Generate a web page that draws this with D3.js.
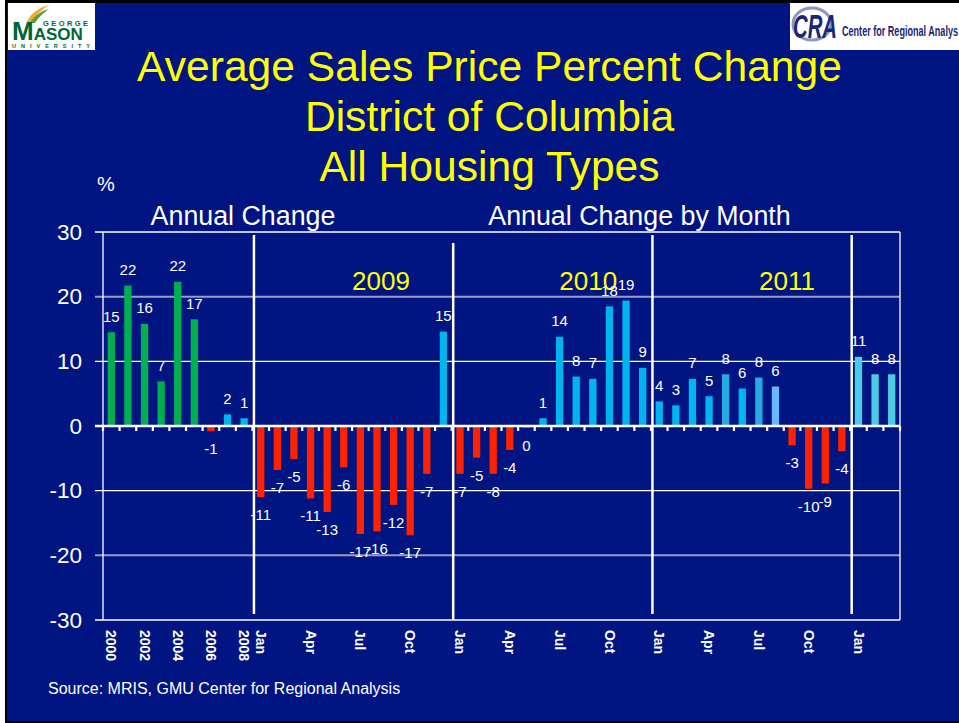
<!DOCTYPE html>
<html><head><meta charset="utf-8">
<script src="https://cdn.jsdelivr.net/npm/d3@7"></script>
<style>
body{margin:0;background:#fff}
svg{display:block}
text{font-family:"Liberation Sans",Arial,Helvetica,sans-serif}
</style>
</head><body>
<svg id="c" width="959" height="723"></svg>
<script>
// ---------- DATA ----------
const categories = [
  "2000","2001","2002","2003","2004","2005","2006","2007","2008",
  "Jan09","Feb09","Mar09","Apr09","May09","Jun09","Jul09","Aug09","Sep09","Oct09","Nov09","Dec09",
  "Jan10","Feb10","Mar10","Apr10","May10","Jun10","Jul10","Aug10","Sep10","Oct10","Nov10","Dec10",
  "Jan11","Feb11","Mar11","Apr11","May11","Jun11","Jul11","Aug11","Sep11","Oct11","Nov11","Dec11",
  "Jan12","Feb12","Mar12"
];
const values = [
  14.5,21.7,15.8,6.9,22.3,16.5,-0.8,1.8,1.2,
  -11.0,-6.8,-5.1,-11.2,-13.3,-6.4,-16.7,-16.3,-12.2,-16.9,-7.4,14.6,
  -7.4,-4.9,-7.4,-3.7,-0.3,1.2,13.8,7.65,7.3,18.5,19.4,9.0,
  3.8,3.2,7.3,4.6,8.0,5.8,7.5,6.1,-3.0,-9.7,-8.9,-3.9,
  10.7,8.0,8.0
];
const valueLabels = [
  "15","22","16","7","22","17","-1","2","1",
  "-11","-7","-5","-11","-13","-6","-17","-16","-12","-17","-7","15",
  "-7","-5","-8","-4","0","1","14","8","7","18","19","9",
  "4","3","7","5","8","6","8","6","-3","-10","-9","-4",
  "11","8","8"
];
const tickLabels = [
  "2000","","2002","","2004","","2006","","2008",
  "Jan","","","Apr","","","Jul","","","Oct","","",
  "Jan","","","Apr","","","Jul","","","Oct","","",
  "Jan","","","Apr","","","Jul","","","Oct","","",
  "Jan","",""
];
const yTicks = [-30,-20,-10,0,10,20,30];
const annualCategories = ["2000","2001","2002","2003","2004","2005"];
const sectionStarts = ["Jan09","Jan10","Jan11","Jan12"];
const yearLabels = ["2009","2010","2011"];
const yearLabelCenters = ["Aug09","Aug10","Aug11"];
const titleLines = ["Average Sales Price Percent Change","District of Columbia","All Housing Types"];

// ---------- SETUP ----------
const svg = d3.select("#c");
const W = 959, H = 723;
svg.append("rect").attr("x",5).attr("y",0).attr("width",W-5).attr("height",H).attr("fill","#000");
svg.append("rect").attr("x",7).attr("y",3).attr("width",W-7).attr("height",718).attr("fill","#001482");

const x = d3.scaleBand().domain(categories).range([103,900]).paddingInner(0.56).paddingOuter(0.28);
const y = d3.scaleLinear().domain([-30,30]).range([620,232]);
const step = x.step();
const left = 103, right = 900;

function colorFor(key, v){
  if (v < 0) return "#FF2200";
  if (annualCategories.includes(key)) return "#00B050";
  if (key === "May11" || key === "Jul11") return "#27AAE3";
  if (key === "Aug11") return "#6AB6FF";
  if (key.endsWith("12")) return "#4CCBE4";
  return "#00B4F0";
}

// ---------- TITLE ----------
const title = svg.append("g");
titleLines.forEach((t,i)=>{
  title.append("text").attr("x",489.5).attr("y",81+i*50).attr("text-anchor","middle")
    .attr("fill","#FFFF00").attr("font-size",42.6).text(t);
});

// ---------- LOGOS ----------
const gmu = svg.append("g");
gmu.append("rect").attr("x",8).attr("y",3).attr("width",87).attr("height",47).attr("fill","#fff");
gmu.append("path").attr("d","M27,22 C31,13 39,7 50,5 C42,9 36,15 32,22 Z").attr("fill","#F3A83B");
gmu.append("path").attr("d","M30,23 C34,16 41,11 49,9 C43,13 38,18 35,23 Z").attr("fill","#5E9E3A");
gmu.append("text").attr("x",43).attr("y",25.5).attr("fill","#006633").attr("font-size",7.5).attr("font-weight","bold")
  .attr("textLength",45).attr("lengthAdjust","spacing").text("GEORGE");
const mason = gmu.append("text").attr("x",12).attr("y",40).attr("fill","#006633")
  .attr("font-family","'Liberation Serif','Times New Roman',serif").attr("font-weight","bold");
mason.append("tspan").attr("font-size",26).text("M");
mason.append("tspan").attr("font-size",17).text("ASON");
gmu.append("text").attr("x",12).attr("y",47.5).attr("fill","#006633").attr("font-size",5.5).attr("font-weight","bold")
  .attr("textLength",78).attr("lengthAdjust","spacing").text("UNIVERSITY");

const cra = svg.append("g");
cra.append("rect").attr("x",790).attr("y",3).attr("width",169).attr("height",47).attr("fill","#fff");
cra.append("ellipse").attr("cx",812).attr("cy",24).attr("rx",19).attr("ry",16).attr("fill","none")
  .attr("stroke","#2B3F8F").attr("stroke-width",3).attr("opacity",0.55);
cra.append("text").attr("x",793).attr("y",38).attr("fill","#1C2677").attr("font-size",34)
  .attr("font-weight","bold").attr("font-style","italic")
  .attr("font-family","'Liberation Sans Narrow','Arial Narrow',sans-serif")
  .attr("textLength",44).attr("lengthAdjust","spacingAndGlyphs").text("CRA");
cra.append("text").attr("x",842).attr("y",36).attr("fill","#1C2677").attr("font-size",14.5)
  .attr("font-weight","bold").attr("font-family","'Liberation Sans Narrow','Arial Narrow',sans-serif")
  .attr("textLength",116).attr("lengthAdjust","spacingAndGlyphs").text("Center for Regional Analys");

// ---------- HEADERS ----------
svg.append("text").attr("x",97).attr("y",191).attr("fill","#fff").attr("font-size",20).text("%");
svg.append("text").attr("x",243).attr("y",225).attr("text-anchor","middle").attr("fill","#fff").attr("font-size",26.8).text("Annual Change");
svg.append("text").attr("x",639.5).attr("y",225).attr("text-anchor","middle").attr("fill","#fff").attr("font-size",26.8).text("Annual Change by Month");

// ---------- GRID ----------
const grid = svg.append("g");
yTicks.forEach(t=>{
  if (t===0) return;
  const faint = Math.abs(t)===20;
  grid.append("line").attr("x1",95).attr("x2",right).attr("y1",y(t)).attr("y2",y(t))
    .attr("stroke", faint ? "#9A9CC8" : "#fff").attr("stroke-width", faint ? 2 : 1.3);
});
grid.append("line").attr("x1",left).attr("x2",left).attr("y1",y(30)).attr("y2",y(-30)).attr("stroke","#fff").attr("stroke-width",1.3);
grid.append("line").attr("x1",right).attr("x2",right).attr("y1",y(30)).attr("y2",y(-30)).attr("stroke","#fff").attr("stroke-width",1.3);

// y axis labels
const yAxis = d3.axisLeft(y).tickValues(yTicks).tickSize(0).tickPadding(13).tickFormat(d=>String(d));
const ya = svg.append("g").attr("transform","translate(95,0)").call(yAxis);
ya.select(".domain").remove();
ya.selectAll("text").attr("fill","#fff").attr("font-size",22.5).attr("font-family","'Liberation Sans',Arial,sans-serif");

// ---------- BARS ----------
svg.append("g").selectAll("rect").data(categories).join("rect")
  .attr("x", d=>x(d))
  .attr("width", x.bandwidth())
  .attr("y", (d,i)=> y(Math.max(0,values[i])))
  .attr("height", (d,i)=> Math.max(0.8, Math.abs(y(values[i]) - y(0))))
  .attr("fill", (d,i)=> colorFor(d, values[i]));

// zero line with ticks
svg.append("line").attr("x1",95).attr("x2",right).attr("y1",y(0)).attr("y2",y(0)).attr("stroke","#fff").attr("stroke-width",2.5);
const bounds = d3.range(categories.length+1).map(i=> left + i*step);
svg.append("g").selectAll("line").data(bounds).join("line")
  .attr("x1",d=>d).attr("x2",d=>d).attr("y1",y(0)).attr("y2",y(0)+5)
  .attr("stroke","#fff").attr("stroke-width",2.2);

// section dividers
sectionStarts.forEach((k,i)=>{
  const xx = x(k) - x.paddingInner()*step/2 + 1.5;
  svg.append("line").attr("x1",xx).attr("x2",xx)
    .attr("y1", i===1 ? 243 : 235).attr("y2", i===1 ? 620 : 614)
    .attr("stroke","#fff").attr("stroke-width",2.5);
});

// year labels
const yearOffsets = [4, 12, 11.5];
yearLabels.forEach((t,i)=>{
  svg.append("text").attr("x", x(yearLabelCenters[i]) + x.bandwidth()/2 + yearOffsets[i]).attr("y",290)
    .attr("text-anchor","middle").attr("fill","#FFFF00").attr("font-size",26).text(t);
});

// value labels
svg.append("g").selectAll("text").data(categories).join("text")
  .attr("x", d=> x(d)+x.bandwidth()/2)
  .attr("y", (d,i)=> values[i] >= 0 ? y(values[i]) - 10.5 : y(values[i]) + 23)
  .attr("text-anchor","middle").attr("fill","#fff").attr("font-size",15)
  .text((d,i)=> valueLabels[i]);

// x axis labels (rotated)
const xAxis = d3.axisBottom(x).tickSize(0).tickPadding(0).tickFormat((d,i)=> tickLabels[i]);
const xa = svg.append("g").attr("transform","translate(0,620)").call(xAxis);
xa.select(".domain").remove();
xa.selectAll("text")
  .attr("transform","translate(0,10) rotate(90)")
  .attr("x",0).attr("y",0).attr("dy","0.35em")
  .attr("text-anchor","start").attr("fill","#fff").attr("font-size",14).attr("font-weight","bold")
  .attr("font-family","'Liberation Sans',Arial,sans-serif");

// source
svg.append("text").attr("x",48).attr("y",694).attr("fill","#fff").attr("font-size",16)
  .text("Source: MRIS, GMU Center for Regional Analysis");
</script>
</body></html>
